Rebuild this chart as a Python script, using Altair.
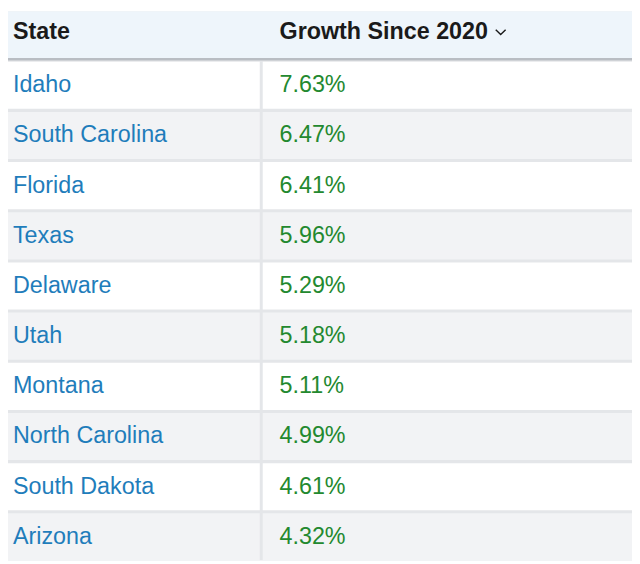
import altair as alt
import pandas as pd

states = ["Idaho", "South Carolina", "Florida", "Texas", "Delaware", "Utah",
          "Montana", "North Carolina", "South Dakota", "Arizona"]
growth = [7.63, 6.47, 6.41, 5.96, 5.29, 5.18, 5.11, 4.99, 4.61, 4.32]
headers = ["State", "Growth Since 2020"]

W, H = 632, 556
FONT = "Liberation Sans"
FS = 23.6
rows = ["header"] + states

df = pd.DataFrame({"state": states, "growth": growth,
                   "stripe": [i % 2 for i in range(len(states))]})
hdr = pd.DataFrame({"state": ["header"], "c1": [headers[0]], "c2": [headers[1]]})

yscale = alt.Scale(domain=rows, paddingInner=0.06, paddingOuter=0)
y = alt.Y("state:N", scale=yscale, axis=None)

base = alt.Chart(df)
hbase = alt.Chart(hdr)

header_bg = hbase.mark_rect(color="#eef5fb").encode(x=alt.value(0), x2=alt.value(W), y=y)
header_rule = hbase.mark_rule(color="#b9bdc3", strokeWidth=2.5, yOffset=0.5).encode(
    x=alt.value(0), x2=alt.value(W),
    y=alt.Y("state:N", bandPosition=1, scale=yscale, axis=None))

fill = alt.condition(alt.datum.stripe == 0, alt.value("#ffffff"), alt.value("#f2f3f5"))
cell1 = base.mark_rect().encode(x=alt.value(0), x2=alt.value(255), y=y, fill=fill)
cell2 = base.mark_rect().encode(x=alt.value(258), x2=alt.value(W), y=y, fill=fill)

txt_state = base.mark_text(align="left", baseline="middle", font=FONT, fontSize=FS,
                           color="#1f7dbb").encode(x=alt.value(5), y=y, text="state:N")
txt_val = base.transform_calculate(
    label="format(datum.growth, '.2f') + '%'"
).mark_text(align="left", baseline="middle", font=FONT, fontSize=FS,
            color="#23892f").encode(x=alt.value(275), y=y, text="label:N")

h1 = hbase.mark_text(align="left", baseline="middle", font=FONT, fontSize=FS, fontWeight="bold",
                     color="#1a1a1a", dy=-3).encode(x=alt.value(5), y=y, text="c1:N")
h2 = hbase.mark_text(align="left", baseline="middle", font=FONT, fontSize=FS, fontWeight="bold",
                     color="#1a1a1a", dy=-3).encode(x=alt.value(275), y=y, text="c2:N")
chev = hbase.mark_point(shape="M -1 -0.5 L 0 0.5 L 1 -0.5", filled=False, size=100,
                        stroke="#1a1a1a", strokeWidth=1.4, opacity=1, yOffset=-3).encode(
    x=alt.value(499), y=y)

chart = alt.layer(header_bg, cell1, cell2, header_rule, txt_state, txt_val, h1, h2, chev).properties(
    width=W, height=H, autosize=alt.AutoSizeParams(type="none"), padding=0
).configure_view(fill="#e4e6e9", strokeWidth=0)

chart.save("out.html", embed_options={"renderer": "svg", "actions": False})
